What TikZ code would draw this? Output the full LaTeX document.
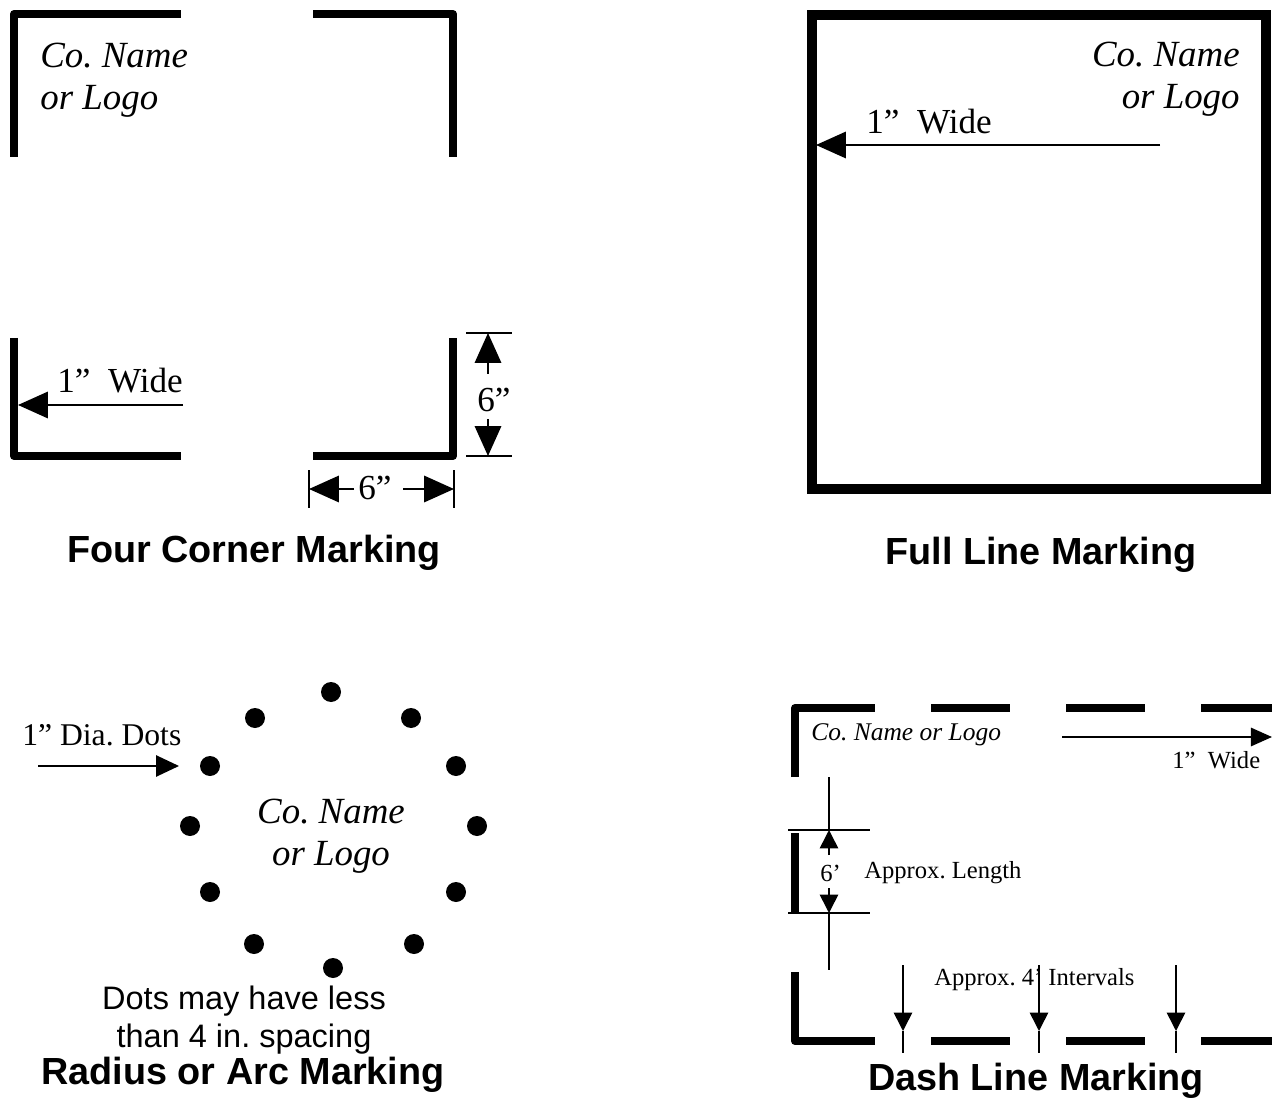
\documentclass[tikz,border=0pt]{standalone}
\usepackage{fontspec}
\setmainfont{Liberation Serif}
\newfontfamily\arialfont{Liberation Sans}
\usetikzlibrary{arrows.meta, positioning}
\frenchspacing

\begin{document}
\begin{tikzpicture}[x=0.02cm, y=-0.02cm,
  stripe/.style={line width=4.6pt, line join=round},
  bigarr/.style={-{Triangle[length=17pt, width=15pt]}, line width=1.1pt},
  smallarr/.style={-{Triangle[length=10.5pt, width=10.5pt]}, line width=0.9pt},
  guide/.style={line width=0.9pt},
  logo/.style={font=\fontsize{21}{24}\selectfont\itshape, inner sep=0pt},
  lbl/.style={font=\fontsize{20}{24}\selectfont, inner sep=0pt},
  smalllbl/.style={font=\fontsize{14}{17}\selectfont, inner sep=0pt},
  note/.style={font=\arialfont\fontsize{18.5}{21.5}\selectfont, inner sep=0pt, align=center},
  heading/.style={font=\arialfont\bfseries\fontsize{21.5}{25}\selectfont, inner sep=0pt},
  dot/.style={circle, fill=black, inner sep=0pt, minimum size=20*0.02cm}
]
\useasboundingbox (0,0) rectangle (1272,1098);

% ---- four corner marking
\draw[stripe] (14,157) -- (14,14) -- (181,14);
\draw[stripe] (313,14) -- (453,14) -- (453,157);
\draw[stripe] (14,338) -- (14,456) -- (181,456);
\draw[stripe] (313,456) -- (453,456) -- (453,338);
\node[logo, anchor=west, align=left] (fcLogo) at (40,80) {Co. Name\\or Logo};
\node[lbl, anchor=west] (fcWide) at (57,381) {1”\ \ Wide};
\coordinate (fcArrS) at (183,405);
\coordinate (fcArrE) at (18,405);
\draw[bigarr] (fcArrS) -- (fcArrE);
% vertical 6"
\coordinate (vdTop) at (488,333);
\coordinate (vdBot) at (488,456);
\draw[guide] (466,333) -- (512,333);
\draw[guide] (466,456) -- (512,456);
\node[lbl] (vdText) at (494,400) {6”};
\draw[bigarr] (488,374) -- (vdTop);
\draw[bigarr] (488,419) -- (vdBot);
% horizontal 6"
\draw[guide] (309,470) -- (309,508);
\draw[guide] (454,470) -- (454,508);
\node[lbl] (hdText) at (375,488) {6”};
\coordinate (hdL) at (309,489);
\coordinate (hdR) at (454,489);
\draw[bigarr] (354,489) -- (hdL);
\draw[bigarr] (403,489) -- (hdR);
\node[heading] (fcTitle) at (254,553) {Four Corner Marking};

% ---- full line marking
\draw[stripe, line width=5.6pt, line join=miter] (812,15) rectangle (1266,489);
\node[logo, anchor=east, align=right] (flLogo) at (1240,79) {Co. Name\\or Logo};
\node[lbl, anchor=west] (flWide) at (866,122) {1”\ \ Wide};
\coordinate (flArrS) at (1160,145);
\coordinate (flArrE) at (816,145);
\draw[bigarr] (flArrS) -- (flArrE);
\node[heading] (flTitle) at (1041,555) {Full Line Marking};

% ---- radius or arc marking
\foreach \px/\py [count=\i] in {331/692, 255/718, 411/718, 210/766, 456/766, 190/826,
    477/826, 210/892, 456/892, 254/944, 414/944, 333/968}
  \node[dot] (d\i) at (\px,\py) {};
\node[lbl, font=\fontsize{18}{22}\selectfont, anchor=west] (raDots) at (22,735) {1”\ Dia. Dots};
\coordinate (raArrS) at (38,766);
\coordinate (raArrE) at (179,766);
\draw[bigarr, -{Triangle[length=13pt, width=12pt]}] (raArrS) -- (raArrE);
\node[logo, align=center] (raLogo) at (331,836) {Co. Name\\or Logo};
\node[note] (raNote) at (244,1020) {Dots may have less\\than 4 in. spacing};
\node[heading] (raTitle) at (243,1075) {Radius or Arc Marking};

% ---- dash line marking
\draw[stripe] (795,777) -- (795,708) -- (875,708);
\draw[stripe] (795,833) -- (795,913);
\draw[stripe] (795,972) -- (795,1041) -- (875,1041);
\foreach \xa/\xb in {931/1010, 1066/1145, 1201/1272} {
  \draw[stripe, line cap=butt] (\xa,708) -- (\xb,708);
  \draw[stripe, line cap=butt] (\xa,1041) -- (\xb,1041);
}
\node[logo, font=\fontsize{14.5}{17}\selectfont\itshape, anchor=west] (dlLogo) at (811,735) {Co. Name or Logo};
\coordinate (dlArrS) at (1062,737);
\coordinate (dlArrE) at (1272,737);
\draw[smallarr, -{Triangle[length=12pt, width=10.5pt]}] (dlArrS) -- (dlArrE);
\node[smalllbl, anchor=west] (dlWide) at (1172,760) {1”\ \ Wide};
% 6' length
\draw[guide] (788,830) -- (870,830);
\draw[guide] (788,913) -- (870,913);
\coordinate (lenTop) at (829,830);
\coordinate (lenBot) at (829,913);
\draw[guide] (829,777) -- (lenTop);
\draw[guide] (lenBot) -- (829,970);
\draw[smallarr] (829,855) -- (lenTop);
\draw[smallarr] (829,888) -- (lenBot);
\node[smalllbl, anchor=west] (lenText) at (820,873) {6’};
\node[smalllbl, anchor=west] (lenNote) at (864,873) {Approx. Length};
% 4' intervals
\node[smalllbl, anchor=west] (intNote) at (934,980) {Approx. 4’ Intervals};
\foreach \px [count=\i] in {903, 1039, 1176} {
  \coordinate (iTop\i) at (\px,965);
  \coordinate (iTip\i) at (\px,1031);
  \coordinate (iBot\i) at (\px,1053);
  \draw[guide] (iTip\i) -- (iBot\i);
  \draw[smallarr] (iTop\i) -- (iTip\i);
}
\node[heading] (dlTitle) at (1036,1081) {Dash Line Marking};
\end{tikzpicture}
\end{document}
